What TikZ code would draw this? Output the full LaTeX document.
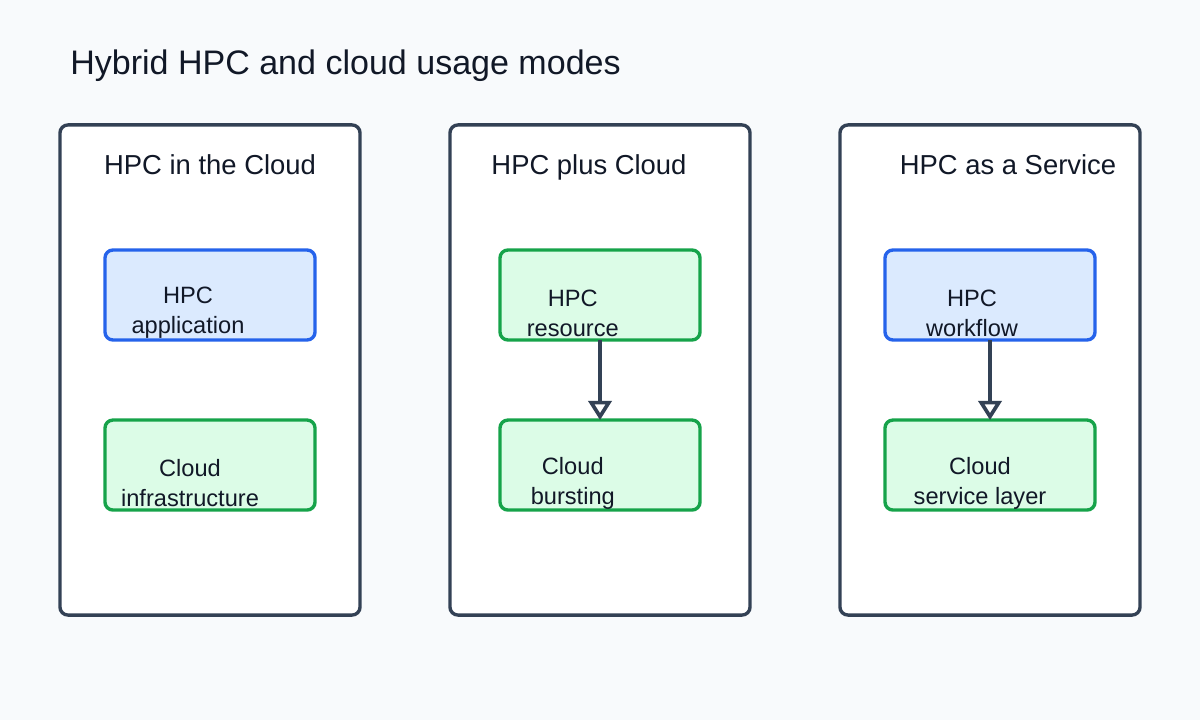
\documentclass[tikz,border=0pt]{standalone}
\usepackage{fontspec}
\setmainfont{Liberation Sans}
\usetikzlibrary{arrows.meta,positioning}
\definecolor{hybridBg}{HTML}{F8FAFC}
\definecolor{hybridInk}{HTML}{111827}
\definecolor{hybridSlate}{HTML}{334155}
\definecolor{hybridBlue}{HTML}{2563EB}
\definecolor{hybridLightBlue}{HTML}{DBEAFE}
\definecolor{hybridGreen}{HTML}{16A34A}
\definecolor{hybridLightGreen}{HTML}{DCFCE7}

\begin{document}
\begin{tikzpicture}[
  x=0.025cm,
  y=-0.025cm,
  panel/.style={
    draw=hybridSlate,
    line width=2.4pt,
    rounded corners=0.2cm,
    fill=white,
    minimum width=7.5cm,
    minimum height=12.25cm,
    inner sep=0pt
  },
  paneltitle/.style={
    anchor=base,
    inner sep=0pt,
    text=hybridInk,
    font=\fontsize{19.5}{23}\selectfont
  },
  boxtext/.style={
    anchor=base,
    inner sep=0pt,
    align=center,
    text=hybridInk,
    font=\fontsize{16.8}{21.3}\selectfont
  },
  hpcbox/.style={
    draw=hybridBlue,
    fill=hybridLightBlue,
    line width=2.4pt,
    rounded corners=0.2cm,
    outer sep=0pt,
    minimum width=5.25cm,
    minimum height=2.25cm
  },
  cloudbox/.style={
    draw=hybridGreen,
    fill=hybridLightGreen,
    line width=2.4pt,
    rounded corners=0.2cm,
    outer sep=0pt,
    minimum width=5.25cm,
    minimum height=2.25cm
  },
  flow/.style={-{Triangle[open,length=0.48cm,width=0.58cm]},line width=2.6pt,hybridSlate}
]
  \fill[hybridBg] (0,0) rectangle (1200,720);
  \node[anchor=base west,inner sep=0pt,text=hybridInk,font=\fontsize{24.2}{29}\selectfont] (title) at (70,75) {Hybrid HPC and cloud usage modes};

  % panels
  \node[panel] (cloudPanel) at (210,370) {};
  \node[panel] (plusPanel) at (600,370) {};
  \node[panel] (servicePanel) at (990,370) {};
  \node[paneltitle] (cloudTitle) at (210,175) {HPC in the Cloud};
  \node[paneltitle] (plusTitle) at (589,175) {HPC plus Cloud};
  \node[paneltitle] (serviceTitle) at (1008,175) {HPC as a Service};

  % HPC in the Cloud
  \node[hpcbox,label={[boxtext,xshift=-0.55cm,yshift=-0.45cm]center:{HPC\\application}}] (app) at (210,295) {};
  \node[cloudbox,below=2cm of app,label={[boxtext,xshift=-0.5cm,yshift=-0.45cm]center:{Cloud\\infrastructure}}] (infra) {};

  % HPC plus Cloud
  \node[cloudbox,minimum width=5cm,label={[boxtext,xshift=-0.68cm,yshift=-0.45cm]center:{HPC\\resource}}] (res) at (600,295) {};
  \node[cloudbox,minimum width=5cm,below=2cm of res,label={[boxtext,xshift=-0.68cm,yshift=-0.45cm]center:{Cloud\\bursting}}] (burst) {};
  \draw[flow] (res) -- (burst);

  % HPC as a Service
  \node[hpcbox,label={[boxtext,xshift=-0.45cm,yshift=-0.45cm]center:{HPC\\workflow}}] (wf) at (990,295) {};
  \node[cloudbox,below=2cm of wf,label={[boxtext,xshift=-0.25cm,yshift=-0.45cm]center:{Cloud\\service layer}}] (svc) {};
  \draw[flow] (wf) -- (svc);
\end{tikzpicture}
\end{document}
